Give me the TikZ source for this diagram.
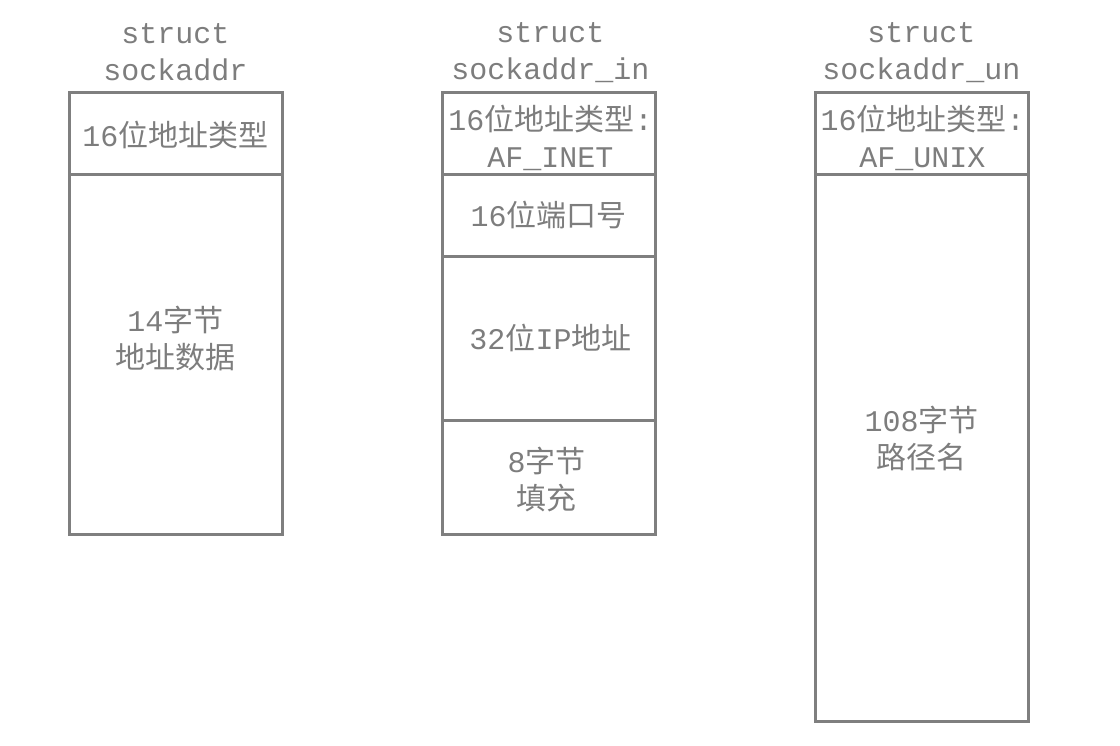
\documentclass[tikz,border=0pt]{standalone}
\usepackage{fontspec}
\setmonofont{Liberation Mono}
\newfontfamily\cjk{Noto Sans CJK SC}
\definecolor{linegray}{RGB}{127,127,127}
\definecolor{txtgray}{RGB}{125,125,125}
\begin{document}
\begin{tikzpicture}[x=1pt,y=-1pt,
  cell/.style={draw=linegray, line width=3pt, rectangle, inner sep=0pt, minimum width=213pt},
  txt/.style={text=txtgray, align=center, inner sep=0pt, font=\ttfamily\fontsize{30}{37}\selectfont},
]
\useasboundingbox (0,0) rectangle (1120,745);
% column 1
\node[txt] (t1) at (175.5,52.5) {struct\\sockaddr};
\node[cell, minimum height=82pt] (a1) at (175.5,133) {};
\node[cell, minimum height=360pt] (a2) at (175.5,354) {};
\node[txt] (la1) at (175.5,135) {16{\cjk 位地址类型}};
\node[txt] (la2) at (175.5,339) {14{\cjk 字节}\\{\cjk 地址数据}};
% column 2
\node[txt] (t2) at (550.5,52.5) {struct\\sockaddr\_in};
\node[cell, minimum height=82pt] (b1) at (548.5,133) {};
\node[cell, minimum height=82pt] (b2) at (548.5,215) {};
\node[cell, minimum height=164pt] (b3) at (548.5,338) {};
\node[cell, minimum height=114pt] (b4) at (548.5,477) {};
\node[txt] (lb1) at (550.5,137.5) {16{\cjk 位地址类型}:\\AF\_INET};
\node[txt] (lb2) at (548.5,215) {16{\cjk 位端口号}};
\node[txt] (lb3) at (550.5,338) {32{\cjk 位}IP{\cjk 地址}};
\node[txt] (lb4) at (546.5,479.5) {8{\cjk 字节}\\{\cjk 填充}};
% column 3
\node[txt] (t3) at (921.5,52.5) {struct\\sockaddr\_un};
\node[cell, minimum height=82pt] (c1) at (921.5,133) {};
\node[cell, minimum height=547pt] (c2) at (921.5,447.5) {};
\node[txt] (lc1) at (922.5,137.5) {16{\cjk 位地址类型}:\\AF\_UNIX};
\node[txt] (lc2) at (921.5,438) {108{\cjk 字节}\\{\cjk 路径名}};
\end{tikzpicture}
\end{document}
